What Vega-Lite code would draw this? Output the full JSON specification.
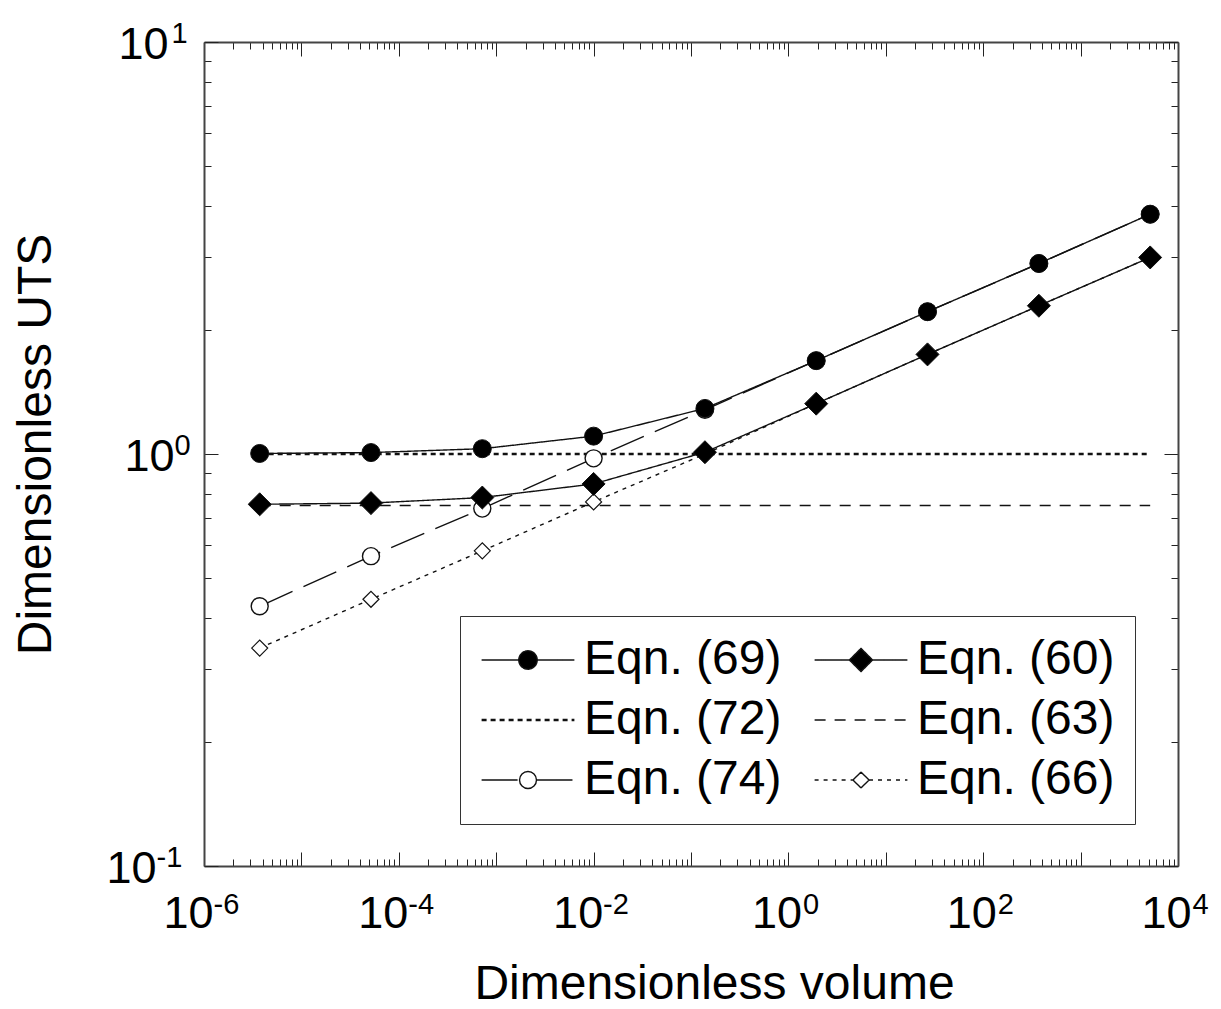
{
  "$schema": "https://vega.github.io/schema/vega-lite/v6.json",
  "autosize": {"type": "none"},
  "padding": {"left": 204, "top": 42, "right": 43, "bottom": 143},
  "width": 974,
  "height": 824,
  "background": "white",
  "config": {"view": {"stroke": null}, "font": "Liberation Sans", "axis": {"grid": false}},
  "datasets": {
    "pts": [
      {"x": 3.73e-6, "y": 1, "series": "Eqn. (72)"},
      {"x": 5.18e-5, "y": 1, "series": "Eqn. (72)"},
      {"x": 7.2e-4, "y": 1, "series": "Eqn. (72)"},
      {"x": 0.01, "y": 1, "series": "Eqn. (72)"},
      {"x": 0.139, "y": 1, "series": "Eqn. (72)"},
      {"x": 1.93, "y": 1, "series": "Eqn. (72)"},
      {"x": 26.8, "y": 1, "series": "Eqn. (72)"},
      {"x": 373, "y": 1, "series": "Eqn. (72)"},
      {"x": 5180, "y": 1, "series": "Eqn. (72)"},
      {"x": 3.73e-6, "y": 0.75, "series": "Eqn. (63)"},
      {"x": 5.18e-5, "y": 0.75, "series": "Eqn. (63)"},
      {"x": 7.2e-4, "y": 0.75, "series": "Eqn. (63)"},
      {"x": 0.01, "y": 0.75, "series": "Eqn. (63)"},
      {"x": 0.139, "y": 0.75, "series": "Eqn. (63)"},
      {"x": 1.93, "y": 0.75, "series": "Eqn. (63)"},
      {"x": 26.8, "y": 0.75, "series": "Eqn. (63)"},
      {"x": 373, "y": 0.75, "series": "Eqn. (63)"},
      {"x": 5180, "y": 0.75, "series": "Eqn. (63)"},
      {"x": 3.73e-6, "y": 0.427, "series": "Eqn. (74)"},
      {"x": 5.18e-5, "y": 0.565, "series": "Eqn. (74)"},
      {"x": 7.2e-4, "y": 0.737, "series": "Eqn. (74)"},
      {"x": 0.01, "y": 0.976, "series": "Eqn. (74)"},
      {"x": 0.139, "y": 1.28, "series": "Eqn. (74)"},
      {"x": 1.93, "y": 1.685, "series": "Eqn. (74)"},
      {"x": 26.8, "y": 2.215, "series": "Eqn. (74)"},
      {"x": 373, "y": 2.9, "series": "Eqn. (74)"},
      {"x": 5180, "y": 3.82, "series": "Eqn. (74)"},
      {"x": 3.73e-6, "y": 0.338, "series": "Eqn. (66)"},
      {"x": 5.18e-5, "y": 0.444, "series": "Eqn. (66)"},
      {"x": 7.2e-4, "y": 0.582, "series": "Eqn. (66)"},
      {"x": 0.01, "y": 0.765, "series": "Eqn. (66)"},
      {"x": 0.139, "y": 1.0, "series": "Eqn. (66)"},
      {"x": 1.93, "y": 1.325, "series": "Eqn. (66)"},
      {"x": 26.8, "y": 1.745, "series": "Eqn. (66)"},
      {"x": 373, "y": 2.29, "series": "Eqn. (66)"},
      {"x": 5180, "y": 3.0, "series": "Eqn. (66)"},
      {"x": 3.73e-6, "y": 1.003, "series": "Eqn. (69)"},
      {"x": 5.18e-5, "y": 1.008, "series": "Eqn. (69)"},
      {"x": 7.2e-4, "y": 1.03, "series": "Eqn. (69)"},
      {"x": 0.01, "y": 1.105, "series": "Eqn. (69)"},
      {"x": 0.139, "y": 1.29, "series": "Eqn. (69)"},
      {"x": 1.93, "y": 1.685, "series": "Eqn. (69)"},
      {"x": 26.8, "y": 2.215, "series": "Eqn. (69)"},
      {"x": 373, "y": 2.9, "series": "Eqn. (69)"},
      {"x": 5180, "y": 3.82, "series": "Eqn. (69)"},
      {"x": 3.73e-6, "y": 0.755, "series": "Eqn. (60)"},
      {"x": 5.18e-5, "y": 0.76, "series": "Eqn. (60)"},
      {"x": 7.2e-4, "y": 0.784, "series": "Eqn. (60)"},
      {"x": 0.01, "y": 0.846, "series": "Eqn. (60)"},
      {"x": 0.139, "y": 1.01, "series": "Eqn. (60)"},
      {"x": 1.93, "y": 1.325, "series": "Eqn. (60)"},
      {"x": 26.8, "y": 1.745, "series": "Eqn. (60)"},
      {"x": 373, "y": 2.29, "series": "Eqn. (60)"},
      {"x": 5180, "y": 3.0, "series": "Eqn. (60)"}
    ]
  },
  "data": {"name": "pts"},
  "resolve": {"axis": {"x": "independent", "y": "independent"}},
  "layer": [
    {
      "transform": [{"filter": "datum.series != 'Eqn. (72)'"}],
      "mark": {"type": "line", "color": "#111", "strokeWidth": 1.4},
      "encoding": {
        "x": {
          "field": "x", "type": "quantitative",
          "scale": {"type": "log", "domain": [1e-6, 1e4], "nice": false},
          "axis": {
            "orient": "bottom",
            "values": [1e-6,2e-6,3e-6,4e-6,5e-6,6e-6,7e-6,8e-6,9e-6,1e-5,2e-5,3e-5,4e-5,5e-5,6e-5,7e-5,8e-5,9e-5,1e-4,2e-4,3e-4,4e-4,5e-4,6e-4,7e-4,8e-4,9e-4,0.001,0.002,0.003,0.004,0.005,0.006,0.007,0.008,0.009,0.01,0.02,0.03,0.04,0.05,0.06,0.07,0.08,0.09,0.1,0.2,0.3,0.4,0.5,0.6,0.7,0.8,0.9,1,2,3,4,5,6,7,8,9,10,20,30,40,50,60,70,80,90,100,200,300,400,500,600,700,800,900,1000,2000,3000,4000,5000,6000,7000,8000,9000,10000],
            "labels": false,
            "domain": true, "domainColor": "#444", "domainWidth": 2,
            "ticks": true, "tickColor": "#222", "tickWidth": 1,
            "tickSize": {"condition": {"test": "abs(log(datum.value)/LN10 - round(log(datum.value)/LN10)) < 0.001", "value": -14}, "value": -7},
            "title": "Dimensionless volume",
            "titleFont": "Liberation Sans", "titleFontSize": 48, "titleFontWeight": "normal", "titleColor": "#000",
            "titleX": 510, "titleY": 132, "titleBaseline": "alphabetic", "titleAlign": "center"
          }
        },
        "y": {
          "field": "y", "type": "quantitative",
          "scale": {"type": "log", "domain": [0.1, 10], "nice": false},
          "axis": {
            "orient": "left",
            "values": [0.1,0.2,0.3,0.4,0.5,0.6,0.7,0.8,0.9,1,2,3,4,5,6,7,8,9,10],
            "labels": false,
            "domain": true, "domainColor": "#444", "domainWidth": 2,
            "ticks": true, "tickColor": "#222", "tickWidth": 1,
            "tickSize": {"condition": {"test": "abs(log(datum.value)/LN10 - round(log(datum.value)/LN10)) < 0.001", "value": -14}, "value": -7},
            "title": "Dimensionless UTS",
            "titleFont": "Liberation Sans", "titleFontSize": 48, "titleFontWeight": "normal", "titleColor": "#000",
            "titleX": -154, "titleY": 402, "titleBaseline": "alphabetic", "titleAlign": "center", "titleAngle": 270
          }
        },
        "strokeDash": {
          "field": "series", "type": "nominal",
          "scale": {
            "domain": ["Eqn. (69)", "Eqn. (60)", "Eqn. (72)", "Eqn. (63)", "Eqn. (74)", "Eqn. (66)"],
            "range": [[1, 0], [1, 0], [5, 4], [11, 9], [36, 12], [4, 5]]
          },
          "legend": {
            "title": null, "orient": "none", "legendX": 256, "legendY": 574,
            "direction": "horizontal", "columns": 2, "symbolOpacity": 1
          }
        }
      }
    },
    {
      "transform": [{"filter": "datum.series == 'Eqn. (72)'"}],
      "mark": {"type": "line", "color": "#111", "strokeWidth": 2.5, "strokeDash": [5, 4]},
      "encoding": {
        "x": {"field": "x", "type": "quantitative", "scale": {"type": "log", "domain": [1e-6, 1e4], "nice": false}, "axis": null},
        "y": {"field": "y", "type": "quantitative", "scale": {"type": "log", "domain": [0.1, 10], "nice": false}, "axis": null}
      }
    },
    {
      "mark": {"type": "point", "filled": false, "color": "#111", "size": 256, "opacity": 0, "strokeWidth": 1.4},
      "encoding": {
        "x": {"field": "x", "type": "quantitative", "scale": {"type": "log", "domain": [1e-6, 1e4], "nice": false}, "axis": null},
        "y": {"field": "y", "type": "quantitative", "scale": {"type": "log", "domain": [0.1, 10], "nice": false}, "axis": null},
        "shape": {
          "field": "series", "type": "nominal",
          "scale": {
            "domain": ["Eqn. (69)", "Eqn. (60)", "Eqn. (72)", "Eqn. (63)", "Eqn. (74)", "Eqn. (66)"],
            "range": [
              "M-5.8,0H-1.15M1.15,0H5.8M1.15,0A1.15,1.15,0,1,1,-1.15,0A1.15,1.15,0,1,1,1.15,0Z",
              "M-5.8,0H-1.45M1.45,0H5.8M-1.45,0L0,-1.45L1.45,0L0,1.45Z",
              "M-5.8,-0.07H5.8M-5.8,0.07H5.8",
              "M-5.8,0H5.8",
              "M-5.8,0H-1.06M1.06,0H5.8M1.06,0A1.06,1.06,0,0,1,-1.06,0M-1.06,0A1.06,1.06,0,0,1,1.06,0",
              "M-5.8,0H-1M1,0H5.8M-1,0L-0.667,-0.333M-0.667,-0.333L-0.333,-0.667M-0.333,-0.667L0,-1M0,-1L0.333,-0.667M0.333,-0.667L0.667,-0.333M0.667,-0.333L1,0M1,0L0.667,0.333M0.667,0.333L0.333,0.667M0.333,0.667L0,1M0,1L-0.333,0.667M-0.333,0.667L-0.667,0.333M-0.667,0.333L-1,0"
            ]
          },
          "legend": {
            "title": null, "orient": "none", "legendX": 256, "legendY": 574,
            "direction": "horizontal",
            "columns": 2, "columnPadding": 29, "rowPadding": 12,
            "padding": 20, "strokeColor": "#333", "fillColor": "white",
            "labelFont": "Liberation Sans", "labelFontSize": 48, "labelColor": "#000", "labelOffset": 32, "labelLimit": 0,
            "symbolSize": 256, "symbolOffset": 24, "symbolOpacity": 1, "symbolStrokeColor": "#111", "symbolStrokeWidth": 1.4
          }
        },
        "fill": {
          "field": "series", "type": "nominal",
          "scale": {
            "domain": ["Eqn. (69)", "Eqn. (60)", "Eqn. (72)", "Eqn. (63)", "Eqn. (74)", "Eqn. (66)"],
            "range": ["#000000", "#000000", "transparent", "transparent", "transparent", "transparent"]
          },
          "legend": {
            "title": null, "orient": "none", "legendX": 256, "legendY": 574,
            "direction": "horizontal", "columns": 2, "symbolOpacity": 1
          }
        },
        "strokeDash": {
          "field": "series", "type": "nominal",
          "scale": {
            "domain": ["Eqn. (69)", "Eqn. (60)", "Eqn. (72)", "Eqn. (63)", "Eqn. (74)", "Eqn. (66)"],
            "range": [[1, 0], [1, 0], [5, 4], [11, 9], [36, 12], [4, 5]]
          },
          "legend": {
            "title": null, "orient": "none", "legendX": 256, "legendY": 574,
            "direction": "horizontal", "columns": 2, "symbolOpacity": 1
          }
        }
      }
    },
    {
      "transform": [{"filter": "datum.series == 'Eqn. (74)'"}],
      "mark": {"type": "point", "shape": "circle", "size": 289, "filled": true, "fill": "white", "stroke": "#111", "strokeWidth": 1.4, "opacity": 1},
      "encoding": {
        "x": {
          "field": "x", "type": "quantitative",
          "scale": {"type": "log", "domain": [1e-6, 1e4], "nice": false},
          "axis": {
            "orient": "top",
            "values": [1e-6,2e-6,3e-6,4e-6,5e-6,6e-6,7e-6,8e-6,9e-6,1e-5,2e-5,3e-5,4e-5,5e-5,6e-5,7e-5,8e-5,9e-5,1e-4,2e-4,3e-4,4e-4,5e-4,6e-4,7e-4,8e-4,9e-4,0.001,0.002,0.003,0.004,0.005,0.006,0.007,0.008,0.009,0.01,0.02,0.03,0.04,0.05,0.06,0.07,0.08,0.09,0.1,0.2,0.3,0.4,0.5,0.6,0.7,0.8,0.9,1,2,3,4,5,6,7,8,9,10,20,30,40,50,60,70,80,90,100,200,300,400,500,600,700,800,900,1000,2000,3000,4000,5000,6000,7000,8000,9000,10000],
            "labels": false, "title": null,
            "domain": true, "domainColor": "#444", "domainWidth": 2,
            "ticks": true, "tickColor": "#222", "tickWidth": 1,
            "tickSize": {"condition": {"test": "abs(log(datum.value)/LN10 - round(log(datum.value)/LN10)) < 0.001", "value": -14}, "value": -7}
          }
        },
        "y": {
          "field": "y", "type": "quantitative",
          "scale": {"type": "log", "domain": [0.1, 10], "nice": false},
          "axis": {
            "orient": "right",
            "values": [0.1,0.2,0.3,0.4,0.5,0.6,0.7,0.8,0.9,1,2,3,4,5,6,7,8,9,10],
            "labels": false, "title": null,
            "domain": true, "domainColor": "#444", "domainWidth": 2,
            "ticks": true, "tickColor": "#222", "tickWidth": 1,
            "tickSize": {"condition": {"test": "abs(log(datum.value)/LN10 - round(log(datum.value)/LN10)) < 0.001", "value": -14}, "value": -7}
          }
        }
      }
    },
    {
      "transform": [{"filter": "datum.series == 'Eqn. (66)'"}],
      "mark": {"type": "point", "shape": "diamond", "size": 256, "filled": true, "fill": "white", "stroke": "#111", "strokeWidth": 1.2, "opacity": 1},
      "encoding": {
        "x": {"field": "x", "type": "quantitative", "scale": {"type": "log", "domain": [1e-6, 1e4], "nice": false}, "axis": null},
        "y": {"field": "y", "type": "quantitative", "scale": {"type": "log", "domain": [0.1, 10], "nice": false}, "axis": null}
      }
    },
    {
      "transform": [{"filter": "datum.series == 'Eqn. (69)'"}],
      "mark": {"type": "point", "shape": "circle", "size": 324, "filled": true, "fill": "black", "stroke": "#111", "strokeWidth": 1, "opacity": 1},
      "encoding": {
        "x": {
          "field": "x", "type": "quantitative",
          "scale": {"type": "log", "domain": [1e-6, 1e4], "nice": false},
          "axis": {
            "orient": "bottom", "values": [1e-6, 1e-4, 0.01, 1, 100, 10000],
            "labelExpr": "'10'", "ticks": false, "domain": false, "title": null,
            "labelFont": "Liberation Sans", "labelFontSize": 45, "labelColor": "#000",
            "labelAlign": "left", "labelBaseline": "alphabetic", "labelPadding": 61,
            "labelOffset": {"condition": {"test": "datum.value < 0.5", "value": -41}, "value": -37},
            "labelFlush": false, "labelOverlap": false, "labelBound": false
          }
        },
        "y": {
          "field": "y", "type": "quantitative",
          "scale": {"type": "log", "domain": [0.1, 10], "nice": false},
          "axis": {
            "orient": "left", "values": [0.1, 1, 10],
            "labelExpr": "'10'", "ticks": false, "domain": false, "title": null,
            "labelFont": "Liberation Sans", "labelFontSize": 45, "labelColor": "#000",
            "labelAlign": "right", "labelBaseline": "alphabetic",
            "labelPadding": {"condition": [{"test": "datum.value < 0.5", "value": 48}, {"test": "datum.value > 5", "value": 36}], "value": 30},
            "labelOffset": 16,
            "labelFlush": false, "labelOverlap": false, "labelBound": false
          }
        }
      }
    },
    {
      "transform": [{"filter": "datum.series == 'Eqn. (60)'"}],
      "mark": {"type": "point", "shape": "diamond", "size": 529, "filled": true, "fill": "black", "stroke": "#111", "strokeWidth": 1, "opacity": 1},
      "encoding": {
        "x": {
          "field": "x", "type": "quantitative",
          "scale": {"type": "log", "domain": [1e-6, 1e4], "nice": false},
          "axis": {
            "orient": "bottom", "values": [1e-6, 1e-4, 0.01, 1, 100, 10000],
            "labelExpr": "'' + round(log(datum.value)/LN10)", "ticks": false, "domain": false, "title": null,
            "labelFont": "Liberation Sans", "labelFontSize": 29, "labelColor": "#000",
            "labelAlign": "left", "labelBaseline": "alphabetic", "labelPadding": 47,
            "labelOffset": {"condition": {"test": "datum.value < 0.5", "value": 9}, "value": 14},
            "labelFlush": false, "labelOverlap": false, "labelBound": false
          }
        },
        "y": {
          "field": "y", "type": "quantitative",
          "scale": {"type": "log", "domain": [0.1, 10], "nice": false},
          "axis": {
            "orient": "left", "values": [0.1, 1, 10],
            "labelExpr": "'' + round(log(datum.value)/LN10)", "ticks": false, "domain": false, "title": null,
            "labelFont": "Liberation Sans", "labelFontSize": 29, "labelColor": "#000",
            "labelAlign": "left", "labelBaseline": "alphabetic",
            "labelPadding": {"condition": [{"test": "datum.value < 0.5", "value": 48}, {"test": "datum.value > 5", "value": 33}], "value": 30},
            "labelOffset": 0,
            "labelFlush": false, "labelOverlap": false, "labelBound": false
          }
        }
      }
    }
  ]
}
